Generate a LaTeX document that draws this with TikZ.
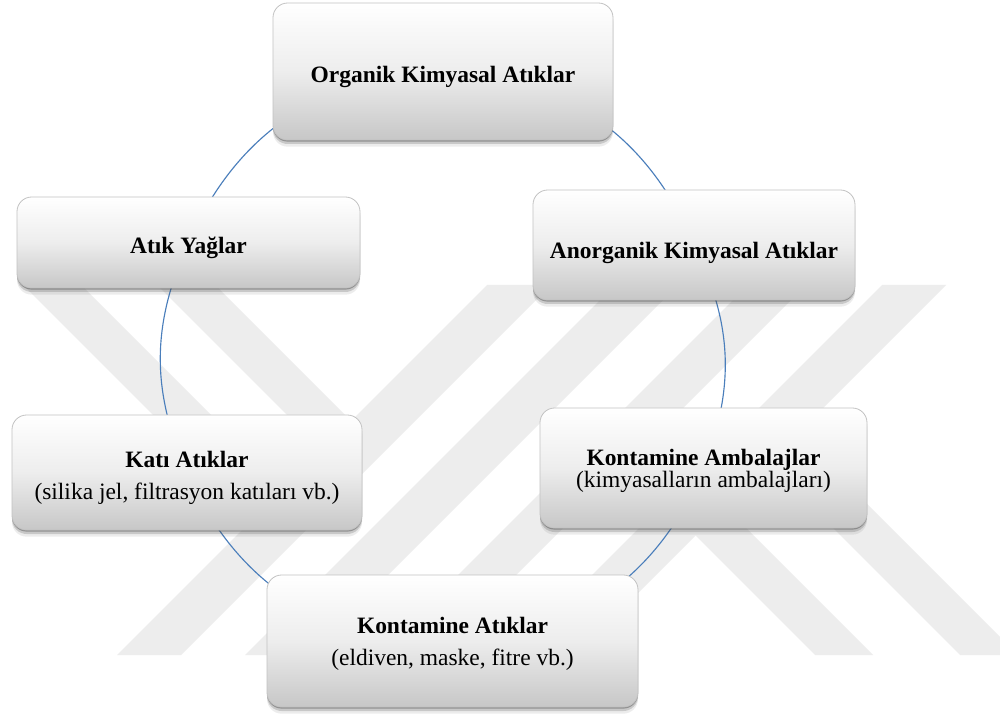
\documentclass[tikz,border=0pt]{standalone}
\usepackage{fontspec}
\setmainfont{Liberation Serif}
\usetikzlibrary{shadows,backgrounds}
\definecolor{wm}{gray}{0.93}
\definecolor{cyc}{HTML}{4A7EBB}
\newcommand\topstrt[1]{\rule{0pt}{#1}}
\tikzset{
  box/.style={rounded corners=11pt, draw=black!24, line width=0.6pt,
    top color=white, bottom color=black!22, middle color=white!93!black,
    inner sep=2pt, align=center,
    drop shadow={shadow xshift=0pt, shadow yshift=-1.2pt, opacity=0.45, fill=black!70},
    drop shadow={shadow xshift=0pt, shadow yshift=-3pt, opacity=0.22, fill=black!70},
    drop shadow={shadow xshift=0pt, shadow yshift=-5pt, opacity=0.10, fill=black!70}},
  fnt/.style={font=\fontsize{17.6}{#1}\selectfont},
  cycline/.style={draw=cyc, line width=0.85pt},
  band/.style={fill=wm}
}
\begin{document}
\begin{tikzpicture}[x=0.75pt,y=-0.75pt]
\useasboundingbox (0,0) rectangle (1000,716);

\node[box, fnt=24, minimum width=255pt, minimum height=102.75pt] (org) at (443,71.5) {\topstrt{20pt}\bfseries Organik Kimyasal Atıklar};
\node[box, fnt=24, minimum width=241.5pt, minimum height=82.5pt] (anorg) at (694,245) {\topstrt{24pt}\bfseries Anorganik Kimyasal Atıklar};
\node[box, fnt=24, minimum width=257.25pt, minimum height=68.25pt] (yag) at (188.5,242.5) {\topstrt{20pt}\bfseries Atık Yağlar};
\node[box, fnt=24, minimum width=262.5pt, minimum height=86.25pt] (kati) at (187,472.5) {\topstrt{21pt}\bfseries Katı Atıklar\\(silika jel, filtrasyon katıları vb.)};
\node[box, fnt=16.5, minimum width=245.25pt, minimum height=90pt] (amb) at (703.5,468) {\topstrt{16.5pt}\bfseries Kontamine Ambalajlar\\(kimyasalların ambalajları)};
\node[box, fnt=24, minimum width=278.25pt, minimum height=99pt] (kont) at (452.5,641) {\topstrt{16pt}\bfseries Kontamine Atıklar\\(eldiven, maske, fitre vb.)};

\begin{pgfonlayer}{background}
  \fill[white] (0,0) rectangle (1000,716);
  % watermark
  \fill[band] (23,285) -- (81,285) -- (236,440) -- (178,440) -- cycle;
  \fill[band] (157,285) -- (215,285) -- (370,440) -- (312,440) -- cycle;
  \fill[band] (660,500) -- (718,500) -- (873,655) -- (815,655) -- cycle;
  \begin{scope}
    \clip (0,285) rectangle (1000,655);
    \fill[band] (805,500) -- (863,500) -- (1018,655) -- (960,655) -- cycle;
  \end{scope}
  \fill[band] (487,285) -- (551,285) -- (181,655) -- (117,655) -- cycle;
  \fill[band] (615,285) -- (678,285) -- (308,655) -- (245,655) -- cycle;
  \fill[band] (748,285) -- (806,285) -- (436,655) -- (378,655) -- cycle;
  \fill[band] (882,285) -- (946,285) -- (576,655) -- (512,655) -- cycle;
  % cycle connectors
  \draw[cycline] (org.center) to[bend left=32.8] (anorg.center);
  \draw[cycline] (anorg.center) to[bend left=23.75] (amb.center);
  \draw[cycline] (amb.center) to[bend left=33] (kont.center);
  \draw[cycline] (kont.center) to[bend left=34] (kati.center);
  \draw[cycline] (kati.center) to[bend left=24] (yag.center);
  \draw[cycline] (yag.center) to[bend left=32.5] (org.center);
\end{pgfonlayer}
\end{tikzpicture}
\end{document}
